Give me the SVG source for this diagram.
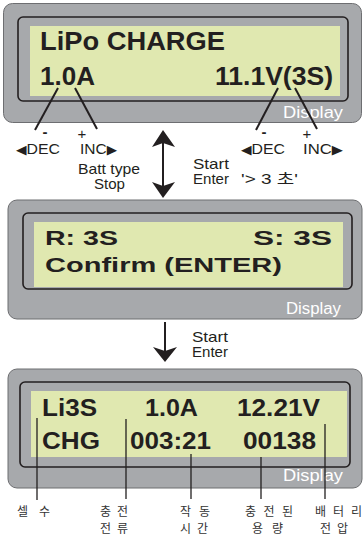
<svg xmlns="http://www.w3.org/2000/svg" width="364" height="536" viewBox="0 0 364 536">
<style>
.outer{fill:#a7a9ac;stroke:#6d6e71;stroke-width:1}
.inner{fill:#a7a9ac;stroke:#231f20;stroke-width:1.6}
.lcd{fill:#e0e8b0}
.lcdt{font-family:"Liberation Sans",Arial,sans-serif;font-weight:bold;fill:#231f20}
.disp{font-family:"Liberation Sans",Arial,sans-serif;font-size:16px;fill:#ffffff}
.lbl{font-family:"Liberation Sans",Arial,sans-serif;font-size:15px;fill:#231f20}
.kr{font-family:"Noto Sans CJK KR","Liberation Sans",sans-serif;font-size:12px;fill:#333333}
.ln{stroke:#231f20;stroke-width:2;fill:none}
.vl{stroke:#231f20;stroke-width:1.3;fill:none}
.ah{fill:#231f20}
.tri{font-family:"DejaVu Sans",sans-serif;font-size:13px}
</style>
<g id="panel1">
<rect class="outer" x="3.5" y="3.5" width="358" height="119" rx="9"/>
<rect class="inner" x="18" y="17" width="330" height="84" rx="5"/>
<rect class="lcd" x="30" y="26" width="310" height="70"/>
<text class="lcdt" x="40" y="50" font-size="25" textLength="185" lengthAdjust="spacingAndGlyphs">LiPo  CHARGE</text>
<text class="lcdt" x="40" y="85" font-size="25" textLength="55" lengthAdjust="spacingAndGlyphs">1.0A</text>
<text class="lcdt" x="215" y="85" font-size="25" textLength="118" lengthAdjust="spacingAndGlyphs">11.1V(3S)</text>
<text class="disp" x="283" y="118" textLength="60" lengthAdjust="spacingAndGlyphs">Display</text>
</g>
<g id="panel2">
<rect class="outer" x="8" y="200" width="354" height="119" rx="9"/>
<rect class="inner" x="23" y="213" width="329" height="76" rx="5"/>
<rect class="lcd" x="34" y="222" width="309" height="65"/>
<text class="lcdt" x="45" y="245" font-size="21" textLength="73" lengthAdjust="spacingAndGlyphs">R: 3S</text>
<text class="lcdt" x="253" y="245" font-size="21" textLength="79" lengthAdjust="spacingAndGlyphs">S:  3S</text>
<text class="lcdt" x="45" y="272" font-size="21" textLength="237" lengthAdjust="spacingAndGlyphs">Confirm (ENTER)</text>
<text class="disp" x="286" y="314" textLength="55" lengthAdjust="spacingAndGlyphs">Display</text>
</g>
<g id="panel3">
<rect class="outer" x="8" y="369" width="354" height="119" rx="9"/>
<rect class="inner" x="20" y="382" width="330" height="85" rx="5"/>
<rect class="lcd" x="31" y="391" width="316" height="66"/>
<text class="lcdt" x="42" y="416" font-size="24" textLength="55" lengthAdjust="spacingAndGlyphs">Li3S</text>
<text class="lcdt" x="145" y="416" font-size="24" textLength="53" lengthAdjust="spacingAndGlyphs">1.0A</text>
<text class="lcdt" x="237" y="416" font-size="24" textLength="83" lengthAdjust="spacingAndGlyphs">12.21V</text>
<text class="lcdt" x="42" y="449" font-size="24" textLength="58" lengthAdjust="spacingAndGlyphs">CHG</text>
<text class="lcdt" x="130" y="449" font-size="24" textLength="81" lengthAdjust="spacingAndGlyphs">003:21</text>
<text class="lcdt" x="243" y="449" font-size="24" textLength="73" lengthAdjust="spacingAndGlyphs">00138</text>
<text class="disp" x="283" y="481" textLength="60" lengthAdjust="spacingAndGlyphs">Display</text>
</g>
<g id="connectors">
<line class="ln" x1="58" y1="88" x2="35" y2="130"/>
<line class="ln" x1="75" y1="88" x2="97" y2="129"/>
<line class="ln" x1="278" y1="88" x2="256" y2="130"/>
<line class="ln" x1="295" y1="88" x2="317" y2="129"/>
<line class="ln" x1="163" y1="140" x2="163" y2="190"/>
<polygon class="ah" points="163,130 175,147 163,143 152,147"/>
<polygon class="ah" points="163,198 175,182 163,186 152,182"/>
<line class="ln" x1="165" y1="322" x2="165" y2="355"/>
<polygon class="ah" points="165,362 177,347 165,351 153,347"/>
<line class="vl" x1="37" y1="418" x2="37" y2="500"/>
<line class="vl" x1="126" y1="419" x2="126" y2="499"/>
<line class="vl" x1="191" y1="454" x2="191" y2="499"/>
<line class="vl" x1="261" y1="457" x2="261" y2="499"/>
<line class="vl" x1="325" y1="424" x2="325" y2="499"/>
</g>
<g id="labels">
<text class="lbl" x="45" y="137" text-anchor="middle" font-weight="bold" font-size="20">-</text>
<text class="lbl" x="82" y="139" text-anchor="middle" font-size="19">+</text>
<text class="lbl" x="16" y="154" textLength="44" lengthAdjust="spacingAndGlyphs"><tspan class="tri">◀</tspan>DEC</text>
<text class="lbl" x="80" y="154" textLength="37" lengthAdjust="spacingAndGlyphs">INC<tspan class="tri">▶</tspan></text>
<text class="lbl" x="264" y="137" text-anchor="middle" font-weight="bold" font-size="20">-</text>
<text class="lbl" x="307" y="139" text-anchor="middle" font-size="19">+</text>
<text class="lbl" x="241" y="154" textLength="44" lengthAdjust="spacingAndGlyphs"><tspan class="tri">◀</tspan>DEC</text>
<text class="lbl" x="303" y="154" textLength="40" lengthAdjust="spacingAndGlyphs">INC<tspan class="tri">▶</tspan></text>
<text class="lbl" x="78" y="174" font-size="13" textLength="62" lengthAdjust="spacingAndGlyphs">Batt type</text>
<text class="lbl" x="94" y="189" font-size="13" textLength="31" lengthAdjust="spacingAndGlyphs">Stop</text>
<text class="lbl" x="193" y="169" font-size="13" textLength="36" lengthAdjust="spacingAndGlyphs">Start</text>
<text class="lbl" x="193" y="184" font-size="13" textLength="36" lengthAdjust="spacingAndGlyphs">Enter</text>
<text class="lbl" x="241" y="184" font-size="14" textLength="57" lengthAdjust="spacingAndGlyphs">'&gt; 3 <tspan font-family="Noto Sans CJK KR">초</tspan>'</text>
<text class="lbl" x="192" y="342" font-size="13" textLength="36" lengthAdjust="spacingAndGlyphs">Start</text>
<text class="lbl" x="192" y="357" font-size="13" textLength="36" lengthAdjust="spacingAndGlyphs">Enter</text>
<text class="kr" x="17" y="516" textLength="33" lengthAdjust="spacing">셀 수</text>
<text class="kr" x="100" y="516" textLength="28" lengthAdjust="spacing">충전</text>
<text class="kr" x="100" y="533" textLength="28" lengthAdjust="spacing">전류</text>
<text class="kr" x="180" y="516" textLength="30" lengthAdjust="spacing">작동</text>
<text class="kr" x="180" y="533" textLength="28" lengthAdjust="spacing">시간</text>
<text class="kr" x="245" y="516" textLength="48" lengthAdjust="spacing">충전된</text>
<text class="kr" x="252" y="533" textLength="31" lengthAdjust="spacing">용량</text>
<text class="kr" x="315" y="516" textLength="47" lengthAdjust="spacing">배터리</text>
<text class="kr" x="320" y="533" textLength="28" lengthAdjust="spacing">전압</text>
</g>
</svg>
